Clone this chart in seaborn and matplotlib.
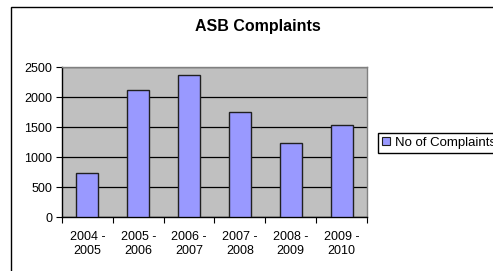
import matplotlib
matplotlib.use("Agg")
import matplotlib.pyplot as plt
import seaborn as sns
import pandas as pd
from matplotlib.patches import Rectangle, Patch

periods = ["2004 -\n2005", "2005 -\n2006", "2006 -\n2007", "2007 -\n2008", "2008 -\n2009", "2009 -\n2010"]
complaints = [741, 2124, 2367, 1753, 1239, 1527]
series_name = "No of Complaints"
title = "ASB Complaints"
yticks = [0, 500, 1000, 1500, 2000, 2500]

sns.set_theme(style="white")
plt.rcParams['font.family'] = ['Liberation Sans', 'DejaVu Sans']
plt.rcParams['text.color'] = 'black'
plt.rcParams['xtick.color'] = 'black'
plt.rcParams['ytick.color'] = 'black'
plt.rcParams['xtick.labelcolor'] = 'black'
plt.rcParams['ytick.labelcolor'] = 'black'

W, H = 493, 271
fig = plt.figure(figsize=(W / 100, H / 100), dpi=100)
fig.patch.set_facecolor("white")

# outer chart frame
fig.patches.append(Rectangle((11 / W, -0.1), 1.2, 1 - 7 / H + 0.1, transform=fig.transFigure,
                             fill=False, edgecolor="black", linewidth=1.0))

ax = fig.add_axes([62 / W, 1 - 217 / H, (367 - 62) / W, (217 - 67) / H])
ax.set_facecolor("#C0C0C0")

df = pd.DataFrame({"period": periods, "value": complaints})
sns.barplot(data=df, x="period", y="value", ax=ax, color="#9999FF", saturation=1,
            width=0.43, edgecolor="#202020", linewidth=1.0, zorder=3)

ax.set_ylim(0, 2500)
ax.set_xlim(-0.5, len(periods) - 0.5)
ax.set_yticks(yticks)
ax.set_yticklabels([str(v) for v in yticks], fontsize=9, color="black")
ax.yaxis.grid(True, color="black", linewidth=0.9, zorder=1)
ax.set_axisbelow(True)
ax.set_xlabel("")
ax.set_ylabel("")

ax.set_xticks(range(len(periods)))
ax.set_xticklabels(periods, fontsize=9, linespacing=1.25, color="black")
ax.set_xticks([i - 0.5 for i in range(len(periods) + 1)], minor=True)
ax.tick_params(axis="x", which="major", length=0, pad=10)
ax.tick_params(axis="x", which="minor", length=4, width=0.8, color="black", direction="out", bottom=True)
ax.tick_params(axis="y", which="major", length=4, width=0.8, color="black", direction="out", left=True, pad=3)

for side in ["top", "right"]:
    ax.spines[side].set_color("#808080")
    ax.spines[side].set_linewidth(1.0)
for side in ["left", "bottom"]:
    ax.spines[side].set_color("black")
    ax.spines[side].set_linewidth(1.0)

fig.text(258 / W, 1 - 27 / H, title, ha="center", va="center", fontsize=11.5,
         fontweight="bold", color="black")

handle = Patch(facecolor="#9999FF", edgecolor="#202020", linewidth=0.8)
leg = fig.legend([handle], [series_name], loc="upper left", bbox_to_anchor=(378 / W, 1 - 133 / H),
                 fontsize=9.5, frameon=True, fancybox=False, edgecolor="black", framealpha=1,
                 handlelength=0.6, handleheight=0.6, handletextpad=0.4, borderpad=0.3,
                 borderaxespad=0, labelcolor="black")

fig.savefig("out.png", dpi=100)
